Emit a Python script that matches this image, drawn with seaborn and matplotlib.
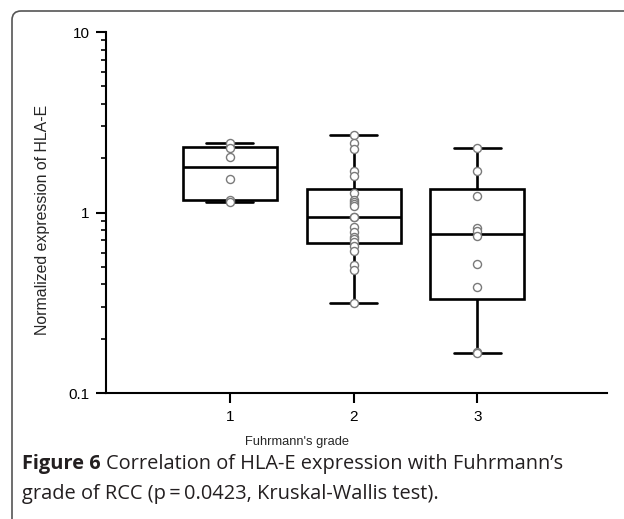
import numpy as np
import pandas as pd
import matplotlib
matplotlib.use("Agg")
import matplotlib.pyplot as plt
from matplotlib.patches import FancyBboxPatch
from matplotlib.path import Path
from matplotlib.ticker import LogLocator, FuncFormatter, NullFormatter, FixedLocator
from matplotlib.transforms import IdentityTransform
import seaborn as sns

# Fuhrmann's grade groups and HLA-E expression values
grades = ["1", "2", "3"]
grade1 = [2.42, 2.27, 2.04, 1.53, 1.18, 1.15]
grade2 = [2.70, 2.43, 2.26, 1.69, 1.59, 1.28, 1.18, 1.14, 1.12, 1.08, 0.94,
          0.94, 0.83, 0.78, 0.73, 0.71, 0.69, 0.65, 0.61, 0.51, 0.48, 0.314]
grade3 = [2.29, 1.70, 1.23, 0.82, 0.79, 0.74, 0.52, 0.385, 0.169, 0.166]

groups = [grade1, grade2, grade3]

sns.set_style("ticks")
plt.rcParams["font.family"] = ["Liberation Sans", "DejaVu Sans"]

df = pd.DataFrame({
    "grade": [g for g, vals in zip(grades, groups) for _ in vals],
    "expr": [v for vals in groups for v in vals],
})

fig = plt.figure(figsize=(6.24, 5.19), dpi=100)
ax = fig.add_axes([0.170, 0.2427, 0.803, 0.6956])

sns.boxplot(data=df, x="grade", y="expr", order=grades, whis=(0, 100),
            width=0.76, color="white", linecolor="black", linewidth=1.9,
            showfliers=False, log_scale=True, ax=ax)


# Prism style quartiles (n+1 method) instead of numpy's default
def prism_stats(vals):
    return np.percentile(vals, [25, 50, 75], method="weibull")


for cont in ax.containers:
    for box in getattr(cont, "boxes", []):
        verts = box.get_path().vertices.copy()
        idx = int(round((verts[:, 0].min() + verts[:, 0].max()) / 2))
        q1, med, q3 = prism_stats(groups[idx])
        lo = verts[:, 1].min()
        verts[:, 1] = np.where(np.isclose(verts[:, 1], lo), q1, q3)
        box.set_path(Path(verts, box.get_path().codes))
    for line in getattr(cont, "medians", []):
        idx = int(round(np.mean(line.get_xdata())))
        q1, med, q3 = prism_stats(groups[idx])
        line.set_ydata([med, med])
    for line in getattr(cont, "whiskers", []):
        idx = int(round(np.mean(line.get_xdata())))
        q1, med, q3 = prism_stats(groups[idx])
        yd = line.get_ydata()
        if yd[1] < yd[0]:
            line.set_ydata([q1, yd[1]])
        else:
            line.set_ydata([q3, yd[1]])

sns.stripplot(data=df, x="grade", y="expr", order=grades, jitter=False,
              size=5.8, color="white", edgecolor="#7a7a7a", linewidth=1,
              log_scale=True, zorder=4, ax=ax)

ax.set_ylim(0.1, 10)
ax.set_xlim(-1, 3.05)
ax.yaxis.set_major_locator(FixedLocator([0.1, 1, 10]))
ax.yaxis.set_major_formatter(FuncFormatter(lambda v, p: f"{v:g}"))
ax.yaxis.set_minor_locator(LogLocator(base=10, subs=range(2, 10)))
ax.yaxis.set_minor_formatter(NullFormatter())

sns.despine(ax=ax)
for side in ["left", "bottom"]:
    ax.spines[side].set_linewidth(1.5)
    ax.spines[side].set_color("black")
ax.tick_params(axis="both", which="major", width=1.5, length=7, color="black",
               labelsize=11, pad=5, labelcolor="black")
ax.tick_params(axis="y", which="minor", width=1.2, length=3.5, color="black")

ax.set_xlabel("Fuhrmann's grade", fontsize=9.3)
ax.set_ylabel("Normalized expression of HLA-E", fontsize=11.4)
ax.xaxis.set_label_coords(0.381, -0.12)
ax.yaxis.set_label_coords(-0.112, 0.479)

# rounded frame of the figure panel
frame = FancyBboxPatch((12, -30), 700, 538,
                       boxstyle="round,pad=0,rounding_size=9",
                       transform=IdentityTransform(), fill=False,
                       ec="#555555", lw=1.2)
fig.add_artist(frame)

cap_kw = dict(family=["Open Sans", "DejaVu Sans"], fontsize=14.4, color="#231f20")
t1 = fig.text(22 / 624, 1 - 469 / 519, "Figure 6", fontweight="bold",
              va="baseline", ha="left", **cap_kw)
ax.annotate("Correlation of HLA-E expression with Fuhrmann\u2019s",
            xy=(1, 0), xycoords=t1, xytext=(4, 0), textcoords="offset points",
            va="bottom", ha="left", annotation_clip=False, **cap_kw)
fig.text(22 / 624, 1 - 499 / 519,
         "grade of RCC (p\u2009=\u20090.0423, Kruskal-Wallis test).",
         va="baseline", ha="left", **cap_kw)

fig.savefig("out.png", dpi=100)
